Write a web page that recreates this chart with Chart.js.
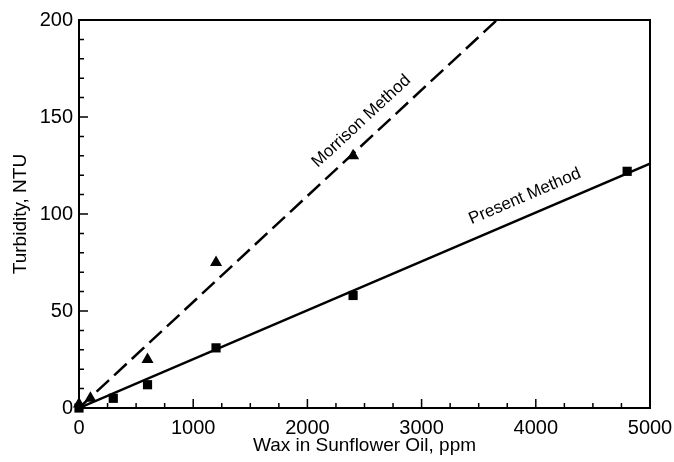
<!DOCTYPE html>
<html>
<head>
<meta charset="utf-8">
<script src="https://cdn.jsdelivr.net/npm/chart.js@4.4.1/dist/chart.umd.min.js"></script>
<style>
  html, body { margin: 0; padding: 0; background: #fff; }
</style>
</head>
<body>
<canvas id="turbidityChart" width="674" height="462"></canvas>
<script>
// measured points
const waxPresent = [0, 300, 600, 1200, 2400, 4800];
const turbidityPresent = [0, 5, 12, 31, 58, 122];
const waxMorrison = [0, 100, 600, 1200, 2400];
const turbidityMorrison = [2, 5, 25, 75, 130];

// fitted lines, end points
const presentFitX = [0, 5000];
const presentFitY = [0, 126];
const morrisonFitX = [0, 3660];
const morrisonFitY = [0, 200];

const xTicks = [0, 1000, 2000, 3000, 4000, 5000];
const yTicks = [0, 50, 100, 150, 200];

const fontFamily = '"Liberation Sans", Arial, sans-serif';

function toPoints(xs, ys) {
    return xs.map((v, i) => ({ x: v, y: ys[i] }));
}

// inward major/minor ticks plus the frame round the plot area
const frameTicks = {
    id: 'frameTicks',
    afterDraw(chart) {
        const ctx = chart.ctx;
        const { left, right, top, bottom } = chart.chartArea;
        const x = chart.scales.x;
        const y = chart.scales.y;
        ctx.save();
        ctx.strokeStyle = '#000';
        ctx.lineWidth = 2;
        ctx.strokeRect(left, top, right - left, bottom - top);

        ctx.lineWidth = 1.5;
        ctx.beginPath();
        for (let v = 0; v <= 5000; v += 250) {
            const px = x.getPixelForValue(v);
            const len = v % 1000 === 0 ? 9 : 5;
            ctx.moveTo(px, bottom);
            ctx.lineTo(px, bottom - len);
        }
        for (let v = 0; v <= 200; v += 10) {
            const py = y.getPixelForValue(v);
            const len = v % 50 === 0 ? 9 : 5;
            ctx.moveTo(left, py);
            ctx.lineTo(left + len, py);
        }
        ctx.stroke();
        ctx.restore();
    }
};

// rotated labels that sit along each fitted line
const lineLabels = {
    id: 'lineLabels',
    afterDatasetsDraw(chart) {
        const ctx = chart.ctx;
        const x = chart.scales.x;
        const y = chart.scales.y;
        const items = [
            { text: 'Morrison Method', at: 2580, fx: morrisonFitX, fy: morrisonFitY, off: 18 },
            { text: 'Present Method', at: 3970, fx: presentFitX, fy: presentFitY, off: 19 }
        ];
        ctx.save();
        ctx.fillStyle = '#000';
        ctx.font = '17px ' + fontFamily;
        ctx.textAlign = 'center';
        ctx.textBaseline = 'middle';
        items.forEach(it => {
            const x0 = x.getPixelForValue(it.fx[0]);
            const y0 = y.getPixelForValue(it.fy[0]);
            const x1 = x.getPixelForValue(it.fx[1]);
            const y1 = y.getPixelForValue(it.fy[1]);
            const angle = Math.atan2(y1 - y0, x1 - x0);
            const slope = (it.fy[1] - it.fy[0]) / (it.fx[1] - it.fx[0]);
            const px = x.getPixelForValue(it.at);
            const py = y.getPixelForValue(it.fy[0] + slope * (it.at - it.fx[0]));
            ctx.save();
            ctx.translate(px + Math.sin(angle) * it.off, py - Math.cos(angle) * it.off);
            ctx.rotate(angle);
            ctx.fillText(it.text, 0, 0);
            ctx.restore();
        });
        ctx.restore();
    }
};

const ctx = document.getElementById('turbidityChart').getContext('2d');
new Chart(ctx, {
    type: 'scatter',
    data: {
        datasets: [{
            label: 'Morrison fit',
            data: toPoints(morrisonFitX, morrisonFitY),
            showLine: true,
            borderColor: '#000',
            borderWidth: 2.5,
            borderDash: [17, 7],
            pointRadius: 0
        }, {
            label: 'Present fit',
            data: toPoints(presentFitX, presentFitY),
            showLine: true,
            borderColor: '#000',
            borderWidth: 2.5,
            pointRadius: 0
        }, {
            label: 'Morrison Method',
            data: toPoints(waxMorrison, turbidityMorrison),
            pointStyle: 'triangle',
            pointRadius: 7,
            backgroundColor: '#000',
            borderColor: '#000',
            borderWidth: 0,
            clip: false
        }, {
            label: 'Present Method',
            data: toPoints(waxPresent, turbidityPresent),
            pointStyle: 'rect',
            pointRadius: 6.5,
            backgroundColor: '#000',
            borderColor: '#000',
            borderWidth: 0,
            clip: false
        }]
    },
    options: {
        responsive: false,
        animation: false,
        layout: {
            padding: { top: 20, right: 24, left: 0, bottom: 0 }
        },
        plugins: {
            legend: { display: false },
            tooltip: { enabled: false }
        },
        scales: {
            x: {
                type: 'linear',
                min: 0,
                max: 5000,
                afterBuildTicks: s => { s.ticks = xTicks.map(v => ({ value: v })); },
                afterFit: s => { s.height = 54; s.paddingRight = 0; s.paddingLeft = 0; },
                grid: { display: false, drawTicks: false },
                border: { display: false },
                ticks: {
                    padding: 8,
                    maxRotation: 0,
                    color: '#000',
                    font: { family: fontFamily, size: 20 },
                    callback: v => String(v)
                },
                title: {
                    display: true,
                    text: 'Wax in Sunflower Oil, ppm',
                    color: '#000',
                    font: { family: fontFamily, size: 19 },
                    padding: { top: 0, bottom: 5 }
                }
            },
            y: {
                type: 'linear',
                min: 0,
                max: 200,
                afterBuildTicks: s => { s.ticks = yTicks.map(v => ({ value: v })); },
                afterFit: s => { s.width = 79; s.paddingTop = 0; s.paddingBottom = 0; },
                grid: { display: false, drawTicks: false },
                border: { display: false },
                ticks: {
                    padding: 6,
                    color: '#000',
                    font: { family: fontFamily, size: 20 },
                    callback: v => String(v)
                },
                title: {
                    display: true,
                    text: 'Turbidity, NTU',
                    color: '#000',
                    font: { family: fontFamily, size: 19 },
                    padding: { top: 9, bottom: 0 }
                }
            }
        }
    },
    plugins: [lineLabels, frameTicks]
});
</script>
</body>
</html>
